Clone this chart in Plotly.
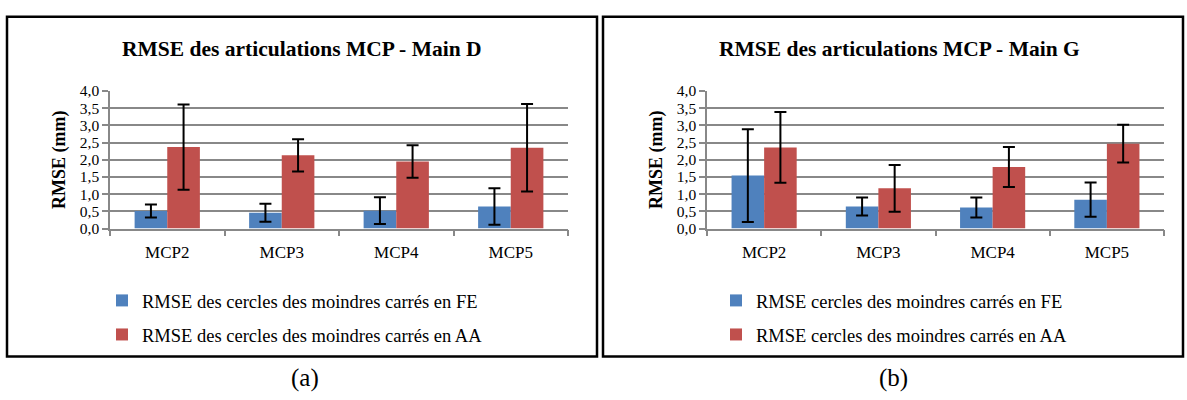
import plotly.graph_objects as go

categories = ["MCP2", "MCP3", "MCP4", "MCP5"]

# Chart (a) - Main D
d_fe = [0.51, 0.46, 0.52, 0.64]
d_fe_err = [0.19, 0.26, 0.39, 0.53]
d_aa = [2.37, 2.13, 1.95, 2.35]
d_aa_err = [1.24, 0.47, 0.47, 1.27]

# Chart (b) - Main G
g_fe = [1.54, 0.64, 0.61, 0.84]
g_fe_err = [1.35, 0.26, 0.29, 0.50]
g_aa = [2.36, 1.17, 1.79, 2.47]
g_aa_err = [1.03, 0.68, 0.58, 0.55]

names_a = ["RMSE des cercles des moindres carrés en FE", "RMSE des cercles des moindres carrés en AA"]
names_b = ["RMSE cercles des moindres carrés en FE", "RMSE cercles des moindres carrés en AA"]
titles = ["RMSE des articulations MCP - Main D", "RMSE des articulations MCP - Main G"]
panel_labels = ["(a)", "(b)"]

BLUE = "#4F81BD"
RED = "#C0504D"
GRID = "#888888"
FONT = "Liberation Serif"
W, H = 1187, 400

def px_x(v):
    return v / W

def px_y(v):
    return 1 - v / H

fig = go.Figure()

def err(arr):
    return dict(type="data", array=arr, visible=True, color="black", thickness=2, width=6)

fig.add_trace(go.Bar(x=categories, y=d_fe, error_y=err(d_fe_err), name=names_a[0], marker_color=BLUE,
                     xaxis="x", yaxis="y", legend="legend", legendgroup="a1", offsetgroup="1"))
fig.add_trace(go.Bar(x=categories, y=d_aa, error_y=err(d_aa_err), name=names_a[1], marker_color=RED,
                     xaxis="x", yaxis="y", legend="legend", legendgroup="a2", offsetgroup="2"))
fig.add_trace(go.Bar(x=categories, y=g_fe, error_y=err(g_fe_err), name=names_b[0], marker_color=BLUE,
                     xaxis="x2", yaxis="y2", legend="legend2", legendgroup="b1", offsetgroup="1"))
fig.add_trace(go.Bar(x=categories, y=g_aa, error_y=err(g_aa_err), name=names_b[1], marker_color=RED,
                     xaxis="x2", yaxis="y2", legend="legend2", legendgroup="b2", offsetgroup="2"))
fig.update_traces(marker_line_width=0)

y_dom = [px_y(229.3), px_y(85.7)]

xcommon = dict(type="category", showline=True, linecolor=GRID, linewidth=1.5,
               ticks="outside", tickson="boundaries", ticklen=6, tickcolor=GRID, tickwidth=1.5,
               showgrid=False, tickfont=dict(family=FONT, size=17, color="black"),
               ticklabelstandoff=7, fixedrange=True)
ycommon = dict(range=[0, 4], dtick=0.5, tickformat=".1f", showline=True, linecolor=GRID, linewidth=1.5,
               ticks="outside", ticklen=6, tickcolor=GRID, tickwidth=1.5,
               showgrid=True, gridcolor=GRID, gridwidth=1.8, zeroline=False,
               tickfont=dict(family=FONT, size=15.5, color="black"),
               title=dict(text="<b>RMSE (mm)</b>", font=dict(family=FONT, size=18, color="black"), standoff=9),
               fixedrange=True)

fig.update_layout(
    width=W, height=H,
    margin=dict(l=0, r=0, t=0, b=0),
    paper_bgcolor="white", plot_bgcolor="white",
    separators=", ",
    barmode="group", bargap=0.43, bargroupgap=0,
    xaxis=dict(domain=[px_x(110), px_x(568)], anchor="y", **xcommon),
    yaxis=dict(domain=y_dom, anchor="x", **ycommon),
    xaxis2=dict(domain=[px_x(707), px_x(1164)], anchor="y2", **xcommon),
    yaxis2=dict(domain=y_dom, anchor="x2", **ycommon),
    legend=dict(x=px_x(102), y=px_y(285), xanchor="left", yanchor="top", tracegroupgap=7,
                font=dict(family=FONT, size=18.5, color="black"), bgcolor="rgba(0,0,0,0)"),
    legend2=dict(x=px_x(716), y=px_y(285), xanchor="left", yanchor="top", tracegroupgap=7,
                 font=dict(family=FONT, size=18.5, color="black"), bgcolor="rgba(0,0,0,0)"),
    showlegend=True,
)

# frames
fig.add_shape(type="rect", xref="paper", yref="paper", x0=px_x(7), x1=px_x(597), y0=px_y(363), y1=px_y(8),
              line=dict(color="black", width=2.5))
fig.add_shape(type="rect", xref="paper", yref="paper", x0=px_x(603), x1=px_x(1183), y0=px_y(363), y1=px_y(8),
              line=dict(color="black", width=2.5))

# titles and panel labels
for cx, t in zip([302, 899], titles):
    fig.add_annotation(text="<b>" + t + "</b>", x=px_x(cx), y=px_y(42), xref="paper", yref="paper",
                       showarrow=False, xanchor="center", yanchor="middle",
                       font=dict(family=FONT, size=21.5, color="black"))
for cx, t in zip([305, 893], panel_labels):
    fig.add_annotation(text=t, x=px_x(cx), y=px_y(385), xref="paper", yref="paper",
                       showarrow=False, xanchor="center", yanchor="middle",
                       font=dict(family=FONT, size=25, color="black"))

fig.write_html("out.html", config={"displayModeBar": False},
               post_script="document.body.style.margin='0';document.body.style.overflow='hidden';")
